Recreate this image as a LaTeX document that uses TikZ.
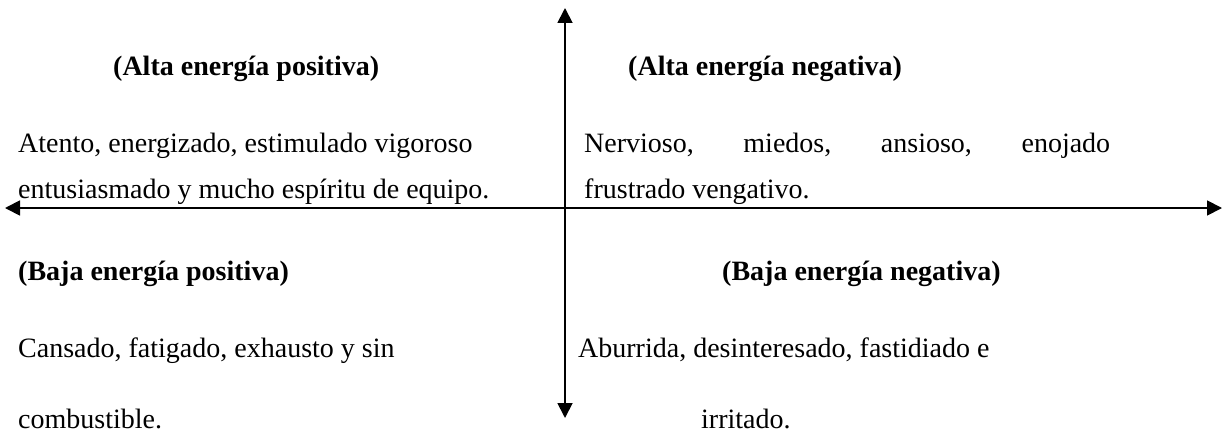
\documentclass[tikz,border=0pt]{standalone}
\usepackage{fontspec}
\setmainfont{Liberation Serif}
\usetikzlibrary{arrows.meta}
\begin{document}
\begin{tikzpicture}[x=1pt,y=-1pt,
  txt/.style={anchor=base west, inner sep=0pt, font=\fontsize{28}{34}\selectfont},
  ttl/.style={anchor=base west, inner sep=0pt, font=\fontsize{28}{34}\selectfont\bfseries},
  axisline/.style={line width=1.8pt, {Triangle[length=15pt,width=15pt]}-{Triangle[length=15pt,width=15pt]}}]
\useasboundingbox (0,0) rectangle (1230,436);
% axes
\coordinate (top) at (565,8);
\coordinate (bottom) at (565,418);
\coordinate (left) at (5,208);
\coordinate (right) at (1222,208);
\draw[axisline] (top) -- (bottom);
\draw[axisline] (left) -- (right);
% upper left
\node[ttl] (t1) at (113,75) {(Alta energía positiva)};
\node[txt] (a1) at (18,152) {Atento, energizado, estimulado vigoroso};
\node[txt] (a2) at (18,198) {entusiasmado y mucho espíritu de equipo.};
% upper right
\node[ttl] (t2) at (628,75) {(Alta energía negativa)};
\node[txt] (b1) at (584,152) {\makebox[526pt][s]{Nervioso, miedos, ansioso, enojado}};
\node[txt] (b2) at (584,198) {frustrado vengativo.};
% lower left
\node[ttl] (t3) at (18,280) {(Baja energía positiva)};
\node[txt] (c1) at (18,357) {Cansado, fatigado, exhausto y sin};
\node[txt] (c2) at (18,428) {combustible.};
% lower right
\node[ttl] (t4) at (722,280) {(Baja energía negativa)};
\node[txt] (d1) at (578,357) {Aburrida, desinteresado, fastidiado e};
\node[txt] (d2) at (701,428) {irritado.};
\end{tikzpicture}
\end{document}
